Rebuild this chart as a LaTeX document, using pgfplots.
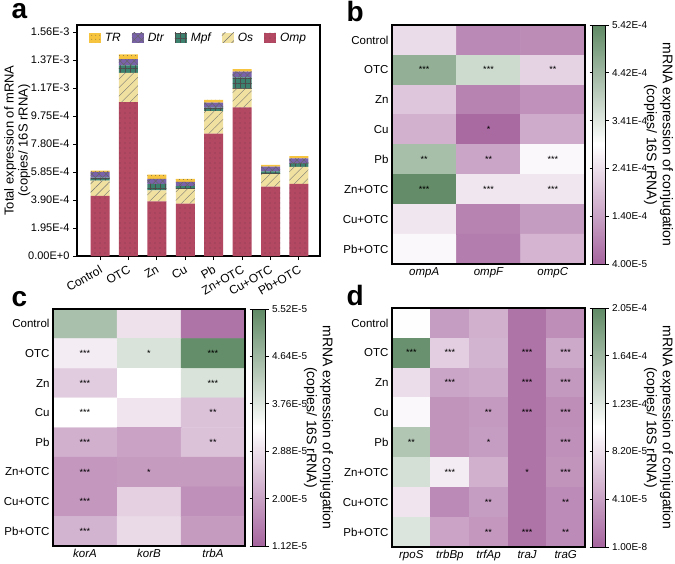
\documentclass[border=0pt]{standalone}
\usepackage{fontspec}
\setmainfont{Liberation Sans}
\usepackage{pgfplots}
\pgfplotsset{compat=1.18}
\usetikzlibrary{patterns.meta}

\definecolor{cOmp}{RGB}{178,72,98}
\definecolor{cOs}{RGB}{240,225,160}
\definecolor{cMpf}{RGB}{60,128,110}
\definecolor{cDtr}{RGB}{122,98,170}
\definecolor{cTR}{RGB}{246,196,62}

\pgfplotsset{
  heat/.style={
    scale only axis, axis on top,
    axis line style={line width=1.2pt},
    y dir=reverse, ymin=-0.5, ymax=7.5, xmin=-0.5,
    ytick={0,...,7},
    yticklabels={Control,OTC,Zn,Cu,Pb,Zn+OTC,Cu+OTC,Pb+OTC},
    major tick length=0pt,
    yticklabel style={font=\fontsize{11.5}{13}\selectfont},
    xticklabel style={font=\fontsize{11.5}{13}\selectfont\itshape},
    colormap={pg}{rgb255=(165,100,158) rgb255=(255,255,255) rgb255=(95,137,100)},
    colorbar,
    colorbar style={
      at={(parent axis.north east)}, anchor=north west, xshift=-1pt,
      width=13pt, axis line style={line width=0.8pt},
      scaled y ticks=false,
      major tick length=3pt, tick align=outside,
      ytick style={line width=0.8pt, black},
      yticklabel style={font=\fontsize{10}{12}\selectfont},
      ylabel={mRNA expression of conjugation\\(copies/ 16S rRNA)},
      ylabel shift=-10pt,
      ylabel style={rotate=180, align=center, font=\fontsize{14}{16}\selectfont},
    },
  },
  stars/.style={
    only marks, mark=none, nodes near coords,
    point meta=explicit symbolic,
    nodes near coords style={anchor=center, font=\fontsize{9}{9}\selectfont},
  },
}

\begin{document}
\begin{tikzpicture}
\useasboundingbox (0,0) rectangle (675pt,-563pt);

% panel letters
\node[anchor=base west, font=\bfseries\fontsize{28}{28}\selectfont] at (8pt,-18pt) {a};
\node[anchor=base west, font=\bfseries\fontsize{28}{28}\selectfont] at (343pt,-21pt) {b};
\node[anchor=base west, font=\bfseries\fontsize{28}{28}\selectfont] at (8pt,-306pt) {c};
\node[anchor=base west, font=\bfseries\fontsize{28}{28}\selectfont] at (343pt,-305pt) {d};

% ---- a: stacked bars
\begin{axis}[
  at={(77pt,-25pt)}, anchor=north west, scale only axis,
  width=243pt, height=231pt,
  ybar stacked, bar width=19pt,
  xmin=-0.81, xmax=7.74, ymin=0, ymax=1.609e-3,
  scaled y ticks=false,
  xtick={0,...,7},
  xticklabels={Control,OTC,Zn,Cu,Pb,Zn+OTC,Cu+OTC,Pb+OTC},
  xticklabel style={rotate=30, anchor=north east, font=\fontsize{12}{13}\selectfont},
  ytick={0,1.95e-4,3.9e-4,5.85e-4,7.8e-4,9.75e-4,1.17e-3,1.365e-3,1.56e-3},
  yticklabels={0.00E+0,1.95E-4,3.90E-4,5.85E-4,7.80E-4,9.75E-4,1.17E-3,1.37E-3,1.56E-3},
  yticklabel style={font=\fontsize{11}{13}\selectfont},
  tick align=outside, xtick pos=bottom, ytick pos=left,
  major tick length=4pt, tick style={line width=1pt, black},
  axis line style={line width=1.2pt},
  ylabel={Total expression of mRNA\\(copies/ 16S rRNA)},
  ylabel shift=-9pt,
  ylabel style={align=center, font=\fontsize{13}{14}\selectfont},
  legend columns=5, reverse legend,
  legend image code/.code={\path[#1] (0pt,-5pt) rectangle (12pt,5pt);},
  legend style={at={(0.5,0.985)}, anchor=north, draw=none, fill=none,
    font=\itshape\fontsize{12}{13}\selectfont,
    /tikz/every odd column/.append style={column sep=2pt},
    /tikz/every even column/.append style={column sep=9pt}},
]
\addplot[fill=cOmp, draw=none, postaction={pattern={Dots[distance=5pt, radius=0.45pt]}, pattern color=black!85}]
  coordinates {(0,4.18e-4)(1,1.072e-3)(2,3.81e-4)(3,3.64e-4)(4,8.52e-4)(5,1.036e-3)(6,4.83e-4)(7,5.03e-4)};
\addplot[fill=cOs, draw=none, postaction={pattern={Lines[angle=45, distance=6pt, line width=0.4pt]}, pattern color=black!55}]
  coordinates {(0,1.07e-4)(1,2.04e-4)(2,7.7e-5)(3,1.02e-4)(4,1.58e-4)(5,1.28e-4)(6,8.8e-5)(7,1.18e-4)};
\addplot[fill=cMpf, draw=none, postaction={pattern={Hatch[angle=0, distance=5pt, line width=0.6pt]}, pattern color=black!70}]
  coordinates {(0,2.1e-5)(1,5.1e-5)(2,4.2e-5)(3,2.1e-5)(4,2.3e-5)(5,8.1e-5)(6,1.9e-5)(7,2.4e-5)};
\addplot[fill=cDtr, draw=none, postaction={pattern={Hatch[angle=45, distance=5pt, line width=0.5pt]}, pattern color=black!60}]
  coordinates {(0,4.0e-5)(1,4.4e-5)(2,3.7e-5)(3,3.0e-5)(4,3.5e-5)(5,3.9e-5)(6,3.2e-5)(7,3.5e-5)};
\addplot[fill=cTR, draw=none, postaction={pattern={Dots[distance=4pt, radius=0.45pt]}, pattern color=black!70}]
  coordinates {(0,9e-6)(1,3.3e-5)(2,3.0e-5)(3,2.1e-5)(4,1.9e-5)(5,1.7e-5)(6,1.2e-5)(7,1.6e-5)};
\legend{Omp,Os,Mpf,Dtr,TR}
\end{axis}

% ---- b
\begin{axis}[heat, at={(392pt,-25pt)}, anchor=north west, width=193pt, height=239pt,
  xmax=2.5, xtick={0,1,2}, xticklabels={ompA,ompF,ompC},
  point meta min=4.0e-5, point meta max=5.42e-4,
  colorbar style={ytick={4.0e-5,1.40e-4,2.41e-4,3.41e-4,4.42e-4,5.42e-4},
    yticklabels={4.00E-5,1.40E-4,2.41E-4,3.41E-4,4.42E-4,5.42E-4}},
]
\addplot[matrix plot*, point meta=explicit, mesh/cols=3] table[meta=c]{
x y c
0 0 2.35e-4
1 0 1.00e-4
2 0 1.05e-4
0 1 4.60e-4
1 1 3.70e-4
2 1 2.20e-4
0 2 2.00e-4
1 2 0.90e-4
2 2 1.15e-4
0 3 1.65e-4
1 3 0.50e-4
2 3 1.55e-4
0 4 4.30e-4
1 4 1.45e-4
2 4 2.80e-4
0 5 5.35e-4
1 5 2.50e-4
2 5 2.50e-4
0 6 2.50e-4
1 6 0.90e-4
2 6 1.30e-4
0 7 2.80e-4
1 7 0.80e-4
2 7 1.70e-4
};
\addplot[stars] table[meta=s]{
x y s
0 1 ***
1 1 ***
2 1 **
1 3 *
0 4 **
1 4 **
2 4 ***
0 5 ***
1 5 ***
2 5 ***
};
\end{axis}

% ---- c
\begin{axis}[heat, at={(53pt,-309pt)}, anchor=north west, width=192pt, height=237pt,
  xmax=2.5, xtick={0,1,2}, xticklabels={korA,korB,trbA},
  point meta min=1.12e-5, point meta max=5.52e-5,
  colorbar style={ytick={1.12e-5,2.00e-5,2.88e-5,3.76e-5,4.64e-5,5.52e-5},
    yticklabels={1.12E-5,2.00E-5,2.88E-5,3.76E-5,4.64E-5,5.52E-5}},
]
\addplot[matrix plot*, point meta=explicit, mesh/cols=3] table[meta=c]{
x y c
0 0 4.50e-5
1 0 2.90e-5
2 0 1.35e-5
0 1 3.05e-5
1 1 3.85e-5
2 1 5.45e-5
0 2 2.60e-5
1 2 3.32e-5
2 2 3.85e-5
0 3 3.32e-5
1 3 2.95e-5
2 3 2.45e-5
0 4 2.20e-5
1 4 2.00e-5
2 4 2.45e-5
0 5 1.85e-5
1 5 1.90e-5
2 5 1.90e-5
0 6 1.85e-5
1 6 2.65e-5
2 6 1.75e-5
0 7 2.25e-5
1 7 2.80e-5
2 7 1.90e-5
};
\addplot[stars] table[meta=s]{
x y s
0 1 ***
1 1 *
2 1 ***
0 2 ***
2 2 ***
0 3 ***
2 3 **
0 4 ***
2 4 **
0 5 ***
1 5 *
0 6 ***
0 7 ***
};
\end{axis}

% ---- d
\begin{axis}[heat, at={(392pt,-308pt)}, anchor=north west, width=193pt, height=239pt,
  xmax=4.5, xtick={0,...,4}, xticklabels={rpoS,trbBp,trfAp,traJ,traG},
  point meta min=1.0e-8, point meta max=2.05e-4,
  colorbar style={ytick={1.0e-8,4.10e-5,8.20e-5,1.23e-4,1.64e-4,2.05e-4},
    yticklabels={1.00E-8,4.10E-5,8.20E-5,1.23E-4,1.64E-4,2.05E-4}},
]
\addplot[matrix plot*, point meta=explicit, mesh/cols=5] table[meta=c]{
x y c
0 0 1.03e-4
1 0 3.8e-5
2 0 5.0e-5
3 0 1.0e-5
4 0 2.8e-5
0 1 1.98e-4
1 1 7.0e-5
2 1 5.3e-5
3 1 1.0e-5
4 1 4.5e-5
0 2 8.0e-5
1 2 4.3e-5
2 2 4.6e-5
3 2 1.0e-5
4 2 3.5e-5
0 3 9.8e-5
1 3 3.2e-5
2 3 3.6e-5
3 3 1.0e-5
4 3 2.8e-5
0 4 1.52e-4
1 4 3.2e-5
2 4 3.8e-5
3 4 1.0e-5
4 4 3.0e-5
0 5 1.30e-4
1 5 9.0e-5
2 5 5.0e-5
3 5 1.0e-5
4 5 3.2e-5
0 6 8.5e-5
1 6 2.5e-5
2 6 3.8e-5
3 6 1.0e-5
4 6 2.6e-5
0 7 1.25e-4
1 7 4.2e-5
2 7 3.4e-5
3 7 1.0e-5
4 7 2.6e-5
};
\addplot[stars] table[meta=s]{
x y s
0 1 ***
1 1 ***
3 1 ***
4 1 ***
1 2 ***
3 2 ***
4 2 ***
2 3 **
3 3 ***
4 3 ***
0 4 **
2 4 *
4 4 ***
1 5 ***
3 5 *
4 5 ***
2 6 **
4 6 **
2 7 **
3 7 ***
4 7 **
};
\end{axis}
\end{tikzpicture}
\end{document}
